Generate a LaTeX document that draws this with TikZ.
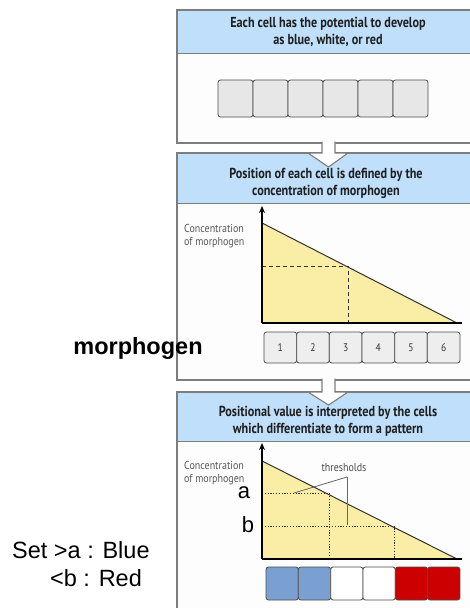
\documentclass[tikz,border=0pt]{standalone}
\usepackage{fontspec}
\setmainfont{Liberation Sans}
\newfontfamily\condf[FakeStretch=0.84]{PT Sans}
\newfontfamily\condsm[FakeStretch=0.87]{PT Sans}
\usetikzlibrary{arrows.meta}
\definecolor{hdr}{RGB}{191,223,250}
\definecolor{cellgray}{RGB}{231,231,231}
\definecolor{yel}{RGB}{250,237,165}
\definecolor{cblue}{RGB}{122,160,210}
\definecolor{cred}{RGB}{204,0,0}
\definecolor{pborder}{RGB}{125,125,125}
\definecolor{panelbg}{RGB}{253,253,253}
\tikzset{
  panelbox/.style={draw=pborder, line width=1.1pt, fill=panelbg},
  hdrband/.style={fill=hdr, draw=pborder, line width=1pt},
  hdrtext/.style={font=\condf\bfseries\fontsize{14.5}{17}\selectfont, text=black!88, align=center},
  cellbox/.style={draw=black!70, line width=0.8pt, rounded corners=2.5pt, inner sep=0pt},
  smalltext/.style={font=\condsm\fontsize{11.5}{13}\selectfont, text=black!65, align=left, inner sep=0pt},
  numtext/.style={font=\condsm\fontsize{11}{12}\selectfont, text=black!80},
  axis/.style={line width=1.6pt, black},
  biglabel/.style={font=\fontsize{23.5}{27}\selectfont, inner sep=0pt},
  thrline/.style={draw=black!60, line width=0.8pt},
  dashline/.style={draw=black!80, line width=0.8pt, dash pattern=on 4pt off 3pt},
  dotline/.style={draw=black!80, line width=0.9pt, dash pattern=on 1.2pt off 1.6pt}
}
\begin{document}
\begin{tikzpicture}[x=1pt, y=-1pt]
\useasboundingbox (0,0) rectangle (470,608);
\clip (0,0) rectangle (470,608);
\fill[white] (0,0) rectangle (470,608);

% ---------- panel 1 ----------
\draw[panelbox] (177,10) rectangle (480,143);
\draw[hdrband] (177,10) rectangle (480,53);
\node[hdrtext] (h1) at (328,32) {Each cell has the potential to develop\\as blue, white, or red};
\foreach \i in {1,...,6}
  \node[cellbox, fill=cellgray, minimum width=35pt, minimum height=37pt] (a\i) at ({218+17.5+35*(\i-1)},98.5) {};

% ---------- panel 2 ----------
\draw[panelbox] (177,153) rectangle (480,380);
\draw[hdrband] (177,153) rectangle (480,203);
\node[hdrtext] (h2) at (326,183) {Position of each cell is defined by the\\concentration of morphogen};
\coordinate (o2) at (262,323);
\coordinate (t2) at (262,223);
\coordinate (r2) at (457,323);
\fill[yel] (t2) -- (r2) -- (o2) -- cycle;
\draw[line width=1pt, black!80] (t2) -- (r2);
\coordinate (d2a) at (262,266);
\coordinate (d2b) at (348,266);
\coordinate (d2c) at (348,323);
\draw[dashline] (d2a) -- (d2b) -- (d2c);
\coordinate (y2) at (262,206);
\coordinate (x2) at (462,323);
\draw[axis, -{Stealth[length=7pt,width=6pt]}] (o2) -- (y2);
\draw[axis] (o2) -- (x2);
\node[smalltext, anchor=north west] (c2) at (184,224) {Concentration\\of morphogen};
\foreach \i in {1,...,6}
  \node[cellbox, fill=cellgray!70, minimum width=32.67pt, minimum height=31pt, numtext] (b\i) at ({264+16.33+32.67*(\i-1)},347.5) {\i};

% ---------- panel 3 ----------
\draw[panelbox] (177,392) rectangle (480,620);
\draw[hdrband] (177,392) rectangle (480,441);
\node[hdrtext] (h3) at (328,421) {Positional value is interpreted by the cells\\which differentiate to form a pattern};
\coordinate (o3) at (262,559);
\coordinate (t3) at (262,461);
\coordinate (r3) at (457,559);
\fill[yel] (t3) -- (r3) -- (o3) -- cycle;
\draw[line width=1pt, black!80] (t3) -- (r3);
\coordinate (ta1) at (262,493);
\coordinate (ta2) at (329,493);
\coordinate (ta3) at (329,559);
\coordinate (tb1) at (262,526);
\coordinate (tb2) at (394,526);
\coordinate (tb3) at (394,559);
\draw[dotline] (ta1) -- (ta2) -- (ta3);
\draw[dotline] (tb1) -- (tb2) -- (tb3);
\coordinate (y3) at (262,443);
\coordinate (x3) at (462,559);
\draw[axis, -{Stealth[length=7pt,width=6pt]}] (o3) -- (y3);
\draw[axis] (o3) -- (x3);
\node[smalltext, anchor=north west] (c3) at (184,461) {Concentration\\of morphogen};
\node[font=\condsm\fontsize{11.5}{12}\selectfont, text=black!70, inner sep=0pt] (thr) at (344,468) {thresholds};
\coordinate (fork) at (347,477);
\coordinate (pa) at (294,493);
\coordinate (pb) at (347,525);
\draw[thrline] (fork) -- (pa);
\draw[thrline] (fork) -- (pb);
\foreach \i/\c in {1/cblue,2/cblue,3/white,4/white,5/cred,6/cred}
  \node[cellbox, fill=\c, minimum width=32.33pt, minimum height=33pt] (c\i) at ({266+16.17+32.33*(\i-1)},583.5) {};

% ---------- hollow arrows between panels ----------
\coordinate (s1l) at (322,141.5);
\coordinate (s1r) at (335,141.5);
\coordinate (k1l) at (322,153);
\coordinate (k1r) at (335,153);
\coordinate (h1l) at (308,153);
\coordinate (h1r) at (348,153);
\coordinate (tip1) at (328.5,167);
\fill[white] (s1l) -- (k1l) -- (h1l) -- (tip1) -- (h1r) -- (k1r) -- (s1r) -- cycle;
\draw[draw=pborder, line width=1.1pt, line join=miter] (s1l) -- (k1l) -- (h1l) -- (tip1) -- (h1r) -- (k1r) -- (s1r);

\coordinate (s2l) at (322,378.5);
\coordinate (s2r) at (335,378.5);
\coordinate (k2l) at (322,392);
\coordinate (k2r) at (335,392);
\coordinate (h2l) at (308,392);
\coordinate (h2r) at (348,392);
\coordinate (tip2) at (328.5,405);
\fill[white] (s2l) -- (k2l) -- (h2l) -- (tip2) -- (h2r) -- (k2r) -- (s2r) -- cycle;
\draw[draw=pborder, line width=1.1pt, line join=miter] (s2l) -- (k2l) -- (h2l) -- (tip2) -- (h2r) -- (k2r) -- (s2r);

% ---------- overlay labels ----------
\node[biglabel, font=\bfseries\fontsize{23.5}{27}\selectfont] (mlab) at (138,348) {morphogen};
\node[biglabel, font=\fontsize{22}{26}\selectfont] (alab) at (244,493) {a};
\node[biglabel, font=\fontsize{22}{26}\selectfont] (blab) at (248,525) {b};
\node[biglabel, anchor=west] (set1) at (12,550) {Set >a : Blue};
\node[biglabel, anchor=west] (set2) at (50,578) {<b : Red};
\end{tikzpicture}
\end{document}
